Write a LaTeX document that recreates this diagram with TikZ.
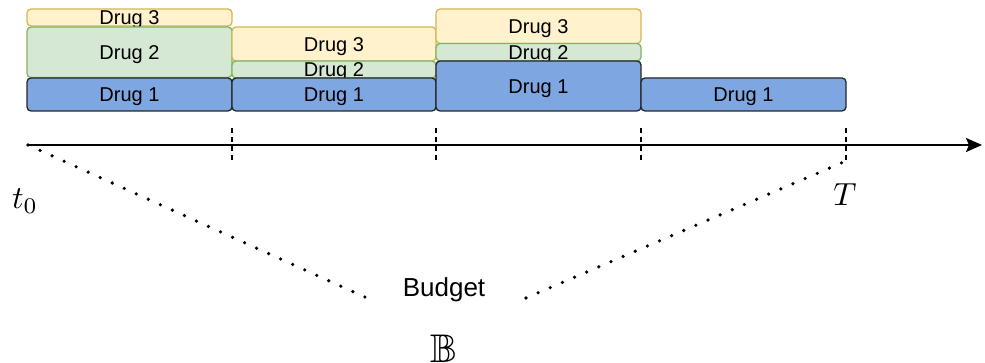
\documentclass[tikz,border=0pt]{standalone}
\usepackage{amssymb}
\usepackage{graphicx}
\usepackage{fontspec}
\setmainfont{Liberation Sans}
\usetikzlibrary{arrows.meta}
\definecolor{bluefill}{HTML}{7EA6E0}
\definecolor{greenfill}{HTML}{D5E8D4}
\definecolor{greenline}{HTML}{82B366}
\definecolor{yellowfill}{HTML}{FFF2CC}
\definecolor{yellowline}{HTML}{D6B656}
\tikzset{
  drugbox/.style={rectangle, rounded corners=4pt, line width=1.3pt, inner sep=0pt,
    font=\fontsize{20}{24}\selectfont, text height=14.3pt, text depth=0pt},
  done/.style={drugbox, fill=bluefill, draw=black!85},
  dtwo/.style={drugbox, fill=greenfill, draw=greenline},
  dthree/.style={drugbox, fill=yellowfill, draw=yellowline},
  tickline/.style={line width=1.3pt, dash pattern=on 5pt off 4pt},
  dotline/.style={line width=3.6pt, line cap=round, dash pattern=on 0pt off 13.2pt},
  mathlabel/.style={inner sep=0pt, font=\fontsize{10}{12}\selectfont},
}
\newcommand{\drugnode}[6]{% style, name, x1, y1, x2, y2
  \node[#1, minimum width={#5-#3}, minimum height={#6-#4}] (#2) at ({(#3+#5)/2},{(#4+#6)/2})}
\begin{document}
\begin{tikzpicture}[x=1pt,y=-1pt]
\useasboundingbox (0,0) rectangle (985,363);
% column 1
\drugnode{dthree}{cad}{27}{9}{232}{26} {Drug 3};
\drugnode{dtwo}{cab}{27}{27}{232}{77.5} {Drug 2};
\drugnode{done}{caa}{27}{78}{232}{111} {Drug 1};
% column 2
\drugnode{dthree}{cbd}{232}{27}{436}{61} {Drug 3};
\drugnode{dtwo}{cbb}{232}{61}{436}{78} {Drug 2};
\drugnode{done}{cba}{232}{78}{436}{111} {Drug 1};
% column 3
\drugnode{dthree}{ccd}{436}{9}{641}{43.5} {Drug 3};
\drugnode{dtwo}{ccb}{436}{43.5}{641}{61} {Drug 2};
\drugnode{done}{cca}{436}{61}{641}{111} {Drug 1};
% column 4
\drugnode{done}{cda}{641}{78}{846}{111} {Drug 1};
% axis
\coordinate (o) at (28,145);
\coordinate (axend) at (982,145);
\draw[line width=1.8pt, -{Stealth[length=16pt,width=14pt,inset=3pt]}] (o) -- (axend);
% ticks
\foreach \x/\n in {232/ta,436/tb,641/tc,846/td}{
  \coordinate (\n top) at (\x,128);
  \coordinate (\n bot) at (\x,163);
  \draw[tickline] (\n top) -- (\n bot);
}
% labels
\node[mathlabel] (t0) at (25,201) {\scalebox{3.2}{$t_0$}};
\node[mathlabel] (tT) at (845,195) {\scalebox{3.2}{$T$}};
\node[font=\fontsize{26}{30}\selectfont] (budget) at (444,290) {Budget};
\node[mathlabel] (bb) at (444,349) {\scalebox{4}{$\mathbb{B}$}};
% dotted lines
\coordinate (bl) at (367,298);
\coordinate (br) at (526,298);
\coordinate (tend) at (846,161);
\draw[dotline] (o) -- (bl);
\draw[dotline] (br) -- (tend);
\end{tikzpicture}
\end{document}
